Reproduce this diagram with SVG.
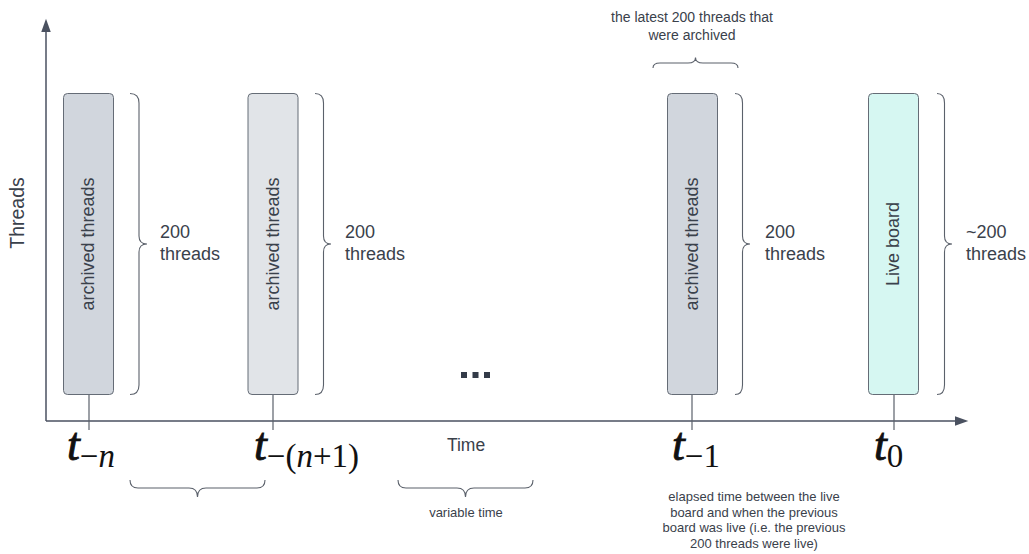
<svg xmlns="http://www.w3.org/2000/svg" width="1029" height="554" viewBox="0 0 1029 554">
  <defs>
    <marker id="arrow" viewBox="0 0 14 10" refX="0" refY="5" markerWidth="14" markerHeight="9.5" markerUnits="userSpaceOnUse" orient="auto">
      <path d="M0,0 L14,5 L0,10 z" fill="#4a5160"/>
    </marker>
    <style>
      .axis { stroke: #4a5160; stroke-width: 1.5; fill: none; }
      .tick { stroke: #5b616b; stroke-width: 1.2; fill: none; }
      .bar { stroke: #656c76; stroke-width: 1; }
      .brace { stroke: #5b616b; stroke-width: 1.1; fill: none; }
      .lbl { font-family: "Liberation Sans", Arial, sans-serif; fill: #3a414b; }
      .big { font-size: 18px; }
      .small { font-size: 13px; }
      .note { font-size: 14px; }
      .math { font-family: "Liberation Serif", "Times New Roman", serif; fill: #111; font-size: 46px; }
      .math .sub { font-size: 33px; font-style: normal; stroke: none; }
      .math .it { font-style: italic; }
      .math .t { font-style: italic; stroke: #111; stroke-width: 0.9; }
    </style>
  </defs>

  <!-- axes and ticks -->
  <g id="connectors">
    <path class="axis" d="M46,421 L46,32" marker-end="url(#arrow)"/>
    <path class="axis" d="M46,421 L955,421" marker-end="url(#arrow)"/>
    <path class="tick" d="M89,395 L89,430"/>
    <path class="tick" d="M273,395 L273,430"/>
    <path class="tick" d="M692,395 L692,430"/>
    <path class="tick" d="M894,395 L894,430"/>
  </g>

  <text class="lbl" font-size="19.5" text-anchor="middle" transform="translate(24,213) rotate(-90)">Threads</text>
  <text class="lbl" font-size="17.5" text-anchor="middle" x="466" y="451">Time</text>

  <!-- snapshot bars with their count braces -->
  <g id="bar-n">
    <rect class="bar" x="63.5" y="93.5" width="50" height="301" rx="4" fill="#d1d6dd"/>
    <text class="lbl big" text-anchor="middle" transform="translate(94,244) rotate(-90)">archived threads</text>
    <path class="brace" d="M130,93.5 Q139,93.5 139,103 L139,236 Q139,244 147,244 Q139,244 139,252 L139,385 Q139,394.5 130,394.5"/>
    <text class="lbl big" x="160" y="238">200</text>
    <text class="lbl big" x="160" y="260">threads</text>
  </g>

  <g id="bar-n1">
    <rect class="bar" x="248" y="93.5" width="50" height="301" rx="4" fill="#e1e4e8"/>
    <text class="lbl big" text-anchor="middle" transform="translate(278.5,244) rotate(-90)">archived threads</text>
    <path class="brace" d="M315,93.5 Q323.5,93.5 323.5,103 L323.5,236 Q323.5,244 331,244 Q323.5,244 323.5,252 L323.5,385 Q323.5,394.5 315,394.5"/>
    <text class="lbl big" x="345" y="238">200</text>
    <text class="lbl big" x="345" y="260">threads</text>
  </g>

  <g id="bar-1">
    <rect class="bar" x="667.5" y="93.5" width="50" height="301" rx="4" fill="#d1d6dd"/>
    <text class="lbl big" text-anchor="middle" transform="translate(698,244) rotate(-90)">archived threads</text>
    <path class="brace" d="M735,93.5 Q742.5,93.5 742.5,103 L742.5,236 Q742.5,244 750,244 Q742.5,244 742.5,252 L742.5,385 Q742.5,394.5 735,394.5"/>
    <text class="lbl big" x="765" y="238">200</text>
    <text class="lbl big" x="765" y="260">threads</text>
  </g>

  <g id="bar-live">
    <rect class="bar" x="868.5" y="93.5" width="50" height="301" rx="4" fill="#d6f7f2"/>
    <text class="lbl big" text-anchor="middle" transform="translate(899,244) rotate(-90)">Live board</text>
    <path class="brace" d="M937,93.5 Q944.5,93.5 944.5,103 L944.5,236 Q944.5,244 952,244 Q944.5,244 944.5,252 L944.5,385 Q944.5,394.5 937,394.5"/>
    <text class="lbl big" x="966" y="238">~200</text>
    <text class="lbl big" x="966" y="260">threads</text>
  </g>

  <!-- gap marker between snapshots -->
  <g id="ellipsis" fill="#333b48">
    <rect x="461" y="372" width="6" height="6"/>
    <rect x="472.5" y="372" width="6" height="6"/>
    <rect x="484" y="372" width="6" height="6"/>
  </g>

  <!-- time stamps -->
  <g id="t-n" class="math">
    <text x="67" y="460"><tspan class="t">t</tspan><tspan class="sub" dy="7">−</tspan><tspan class="sub it">n</tspan></text>
  </g>
  <g id="t-n1" class="math">
    <text x="254" y="460"><tspan class="t">t</tspan><tspan class="sub" dy="7">−(</tspan><tspan class="sub it">n</tspan><tspan class="sub">+1)</tspan></text>
  </g>
  <g id="t-1" class="math">
    <text x="672" y="460"><tspan class="t">t</tspan><tspan class="sub" dy="7">−1</tspan></text>
  </g>
  <g id="t-0" class="math">
    <text x="874" y="460"><tspan class="t">t</tspan><tspan class="sub" dy="7">0</tspan></text>
  </g>

  <!-- interval braces and notes -->
  <g id="interval-brace">
    <path class="brace" d="M130,480 Q130,488 138,488 L189,488 Q197.5,488 197.5,497 Q197.5,488 206,488 L257,488 Q265,488 265,480"/>
  </g>

  <g id="variable-time">
    <path class="brace" d="M398,480 Q398,488 406,488 L457,488 Q465.5,488 465.5,497 Q465.5,488 474,488 L525,488 Q533,488 533,480"/>
    <text class="lbl small" text-anchor="middle" x="466" y="517">variable time</text>
  </g>

  <g id="latest-note">
    <text class="lbl note" text-anchor="middle" x="692" y="22">the latest 200 threads that</text>
    <text class="lbl note" text-anchor="middle" x="692" y="40">were archived</text>
    <path class="brace" d="M653,68 Q653,63 660,63 L688,63 Q695.5,63 695.5,57.5 Q695.5,63 703,63 L731,63 Q738,63 738,68"/>
  </g>

  <g id="elapsed-note" class="lbl small" text-anchor="middle">
    <text x="754" y="501">elapsed time between the live</text>
    <text x="754" y="517">board and when the previous</text>
    <text x="754" y="532">board was live (i.e. the previous</text>
    <text x="754" y="548">200 threads were live)</text>
  </g>
</svg>
